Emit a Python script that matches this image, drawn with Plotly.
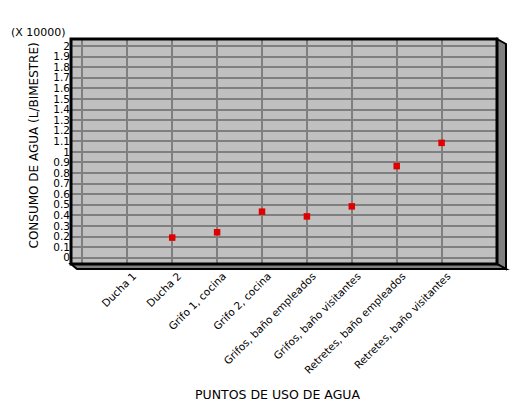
import plotly.graph_objects as go

categories = ["Ducha 1", "Ducha 2", "Grifo 1, cocina", "Grifo 2, cocina",
              "Grifos, baño empleados", "Grifos, baño visitantes",
              "Retretes, baño empleados", "Retretes, baño visitantes"]
consumo = [None, 0.19, 0.24, 0.435, 0.39, 0.485, 0.865, 1.085]  # x 10000 L/bimestre
y_ticks = [round(i * 0.1, 1) for i in range(21)]
y_tick_labels = ["0"] + [f"{v:g}" for v in y_ticks[1:]]

OFF = 8  # default page body margin
W, H = 526 - 2 * OFF, 414 - 2 * OFF
# plot panel edges in page pixels
L, R, T, B = 71, 497, 39, 264
pw, ph = R - L, B - T

def px(x):
    return (x - L) / pw

def py(y):
    return (B - y) / ph

xpos = list(range(len(categories)))

fig = go.Figure()
fig.add_trace(go.Scatter(
    x=xpos, y=consumo, mode="markers",
    marker=dict(symbol="square", size=6.5, color="#e00000"),
    showlegend=False, cliponaxis=False,
))

font_family = "DejaVu Sans"
fig.update_layout(
    width=W, height=H,
    margin=dict(l=L - OFF, r=W - (R - OFF), t=T - OFF, b=H - (B - OFF), pad=0),
    paper_bgcolor="white",
    plot_bgcolor="#c0c0c0",
    font=dict(family=font_family, color="black", size=10),
    xaxis=dict(
        range=[-1.254, 8.234],
        tickvals=[-1] + xpos,
        ticktext=[""] + categories,
        tickangle=-45,
        ticklabelshift=6,
        ticklabelstandoff=3,
        showgrid=True, gridcolor="#7f7f7f", gridwidth=1.5,
        zeroline=False, ticks="", showline=False,
        tickfont=dict(size=10.5, family=font_family),
        fixedrange=True,
    ),
    yaxis=dict(
        range=[-0.0595, 2.066],
        tickvals=y_ticks,
        ticktext=y_tick_labels,
        showgrid=True, gridcolor="#7f7f7f", gridwidth=1.5,
        zeroline=False, ticks="", showline=False,
        tickfont=dict(size=10.5, family=font_family),
        fixedrange=True,
    ),
)

shapes = []
# side panel (right)
shapes.append(dict(type="path", xref="paper", yref="paper",
                   path=f"M {px(R)},{py(T)} L {px(R+9)},{py(T+5)} L {px(R+9)},{py(B+5)} L {px(R)},{py(B)} Z",
                   fillcolor="#808080", line=dict(color="black", width=2), layer="above"))
# floor (bottom)
shapes.append(dict(type="path", xref="paper", yref="paper",
                   path=f"M {px(L)},{py(B)} L {px(R)},{py(B)} L {px(R+9)},{py(B+5)} L {px(L+6)},{py(B+5)} Z",
                   fillcolor="#808080", line=dict(color="black", width=2), layer="above"))
# front border
shapes.append(dict(type="rect", xref="paper", yref="paper", x0=0, x1=1, y0=0, y1=1,
                   line=dict(color="black", width=3), layer="above"))
fig.update_layout(shapes=shapes)

fig.add_annotation(text="CONSUMO DE AGUA (L/BIMESTRE)", xref="paper", yref="paper",
                   x=px(33), y=py(145.5), textangle=-90, showarrow=False,
                   font=dict(size=12, family=font_family), xanchor="center", yanchor="middle")
fig.add_annotation(text="(X 10000)", xref="paper", yref="paper",
                   x=px(38.5), y=py(32.5), showarrow=False,
                   font=dict(size=11, family=font_family), xanchor="center", yanchor="middle")
fig.add_annotation(text="PUNTOS DE USO DE AGUA", xref="paper", yref="paper",
                   x=px(277.5), y=py(394), showarrow=False,
                   font=dict(size=12.5, family=font_family), xanchor="center", yanchor="middle")

fig.write_html("out.html")
